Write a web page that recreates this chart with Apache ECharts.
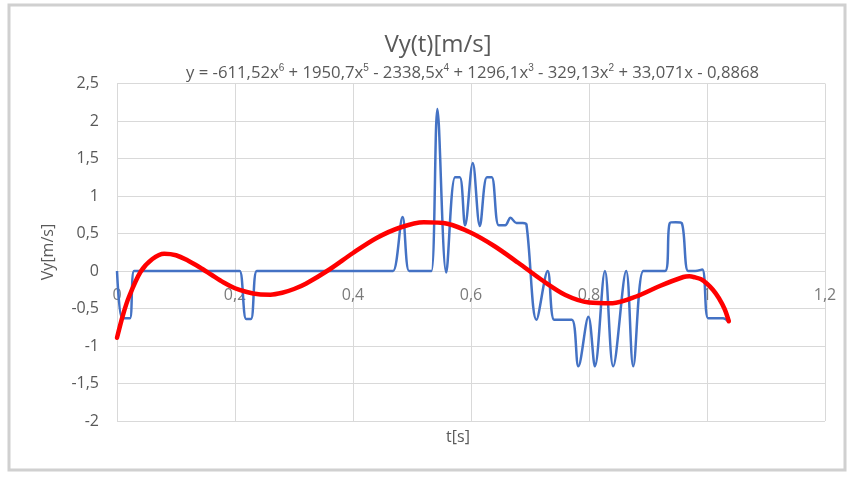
<!DOCTYPE html>
<html><head><meta charset="utf-8">
<script src="https://cdn.jsdelivr.net/npm/echarts@6/dist/echarts.min.js"></script>
<style>html,body{margin:0;padding:0;background:#fff}#c{width:853px;height:478px}</style>
</head><body><div id="c"></div>
<script>
const chartTitle = 'Vy(t)[m/s]';
const xName = 't[s]';
const yName = 'Vy[m/s]';
const xTicks = [0, 0.2, 0.4, 0.6, 0.8, 1, 1.2];
const yTicks = [-2, -1.5, -1, -0.5, 0, 0.5, 1, 1.5, 2, 2.5];
// measured signal
const blueT = [0, 0.0085, 0.015, 0.022, 0.029, 0.04, 0.1, 0.2, 0.208, 0.219, 0.227, 0.237, 0.25, 0.35, 0.46, 0.468, 0.484, 0.495, 0.505, 0.525, 0.533, 0.543, 0.558, 0.573, 0.581, 0.590, 0.603, 0.615, 0.627, 0.635, 0.647, 0.658, 0.667, 0.677, 0.688, 0.694, 0.711, 0.730, 0.741, 0.755, 0.771, 0.782, 0.799, 0.810, 0.827, 0.841, 0.863, 0.875, 0.892, 0.905, 0.929, 0.937, 0.947, 0.957, 0.968, 0.980, 0.992, 1.002, 1.015, 1.027, 1.037];
const blueV = [0, -0.63, -0.63, -0.63, 0, 0, 0, 0, 0, -0.64, -0.64, 0, 0, 0, 0, 0, 0.72, 0, 0, 0, 0, 2.16, -0.02, 1.25, 1.25, 0.61, 1.44, 0.60, 1.25, 1.25, 0.61, 0.61, 0.71, 0.64, 0.64, 0.62, -0.65, 0, -0.65, -0.65, -0.65, -1.27, -0.61, -1.27, 0, -1.27, 0, -1.27, 0, 0, 0, 0.64, 0.65, 0.64, 0, 0, 0.02, -0.63, -0.63, -0.63, -0.68];
// polynomial trendline
const trendT = [0, 0.01, 0.02, 0.04, 0.06, 0.08, 0.1, 0.12, 0.14, 0.16, 0.18, 0.2, 0.22, 0.24, 0.26, 0.28, 0.3, 0.32, 0.36, 0.4, 0.44, 0.48, 0.52, 0.56, 0.6, 0.64, 0.68, 0.72, 0.76, 0.8, 0.84, 0.88, 0.92, 0.96, 0.97, 0.98, 0.99, 1.0, 1.01, 1.02, 1.03, 1.037];
const trendV = [-0.89, -0.59, -0.35, -0.01, 0.16, 0.23, 0.21, 0.14, 0.05, -0.05, -0.15, -0.23, -0.28, -0.31, -0.315, -0.29, -0.24, -0.17, 0.02, 0.24, 0.44, 0.58, 0.65, 0.63, 0.51, 0.33, 0.11, -0.12, -0.32, -0.42, -0.43, -0.34, -0.20, -0.08, -0.07, -0.085, -0.11, -0.17, -0.25, -0.36, -0.51, -0.67];

const fmt = v => String(v).replace('.', ',');
const chart = echarts.init(document.getElementById('c'), null, {renderer: 'canvas'});
const txt = '#595959';
const font = "'Open Sans', sans-serif";
chart.setOption({
  animation: false,
  backgroundColor: '#fff',
  textStyle: {fontFamily: font},
  graphic: [
    {type: 'rect', shape: {x: 9, y: 5, width: 836, height: 465}, style: {fill: 'none', stroke: '#d0d0d0', lineWidth: 3}, z: 0},
    {type: 'text', x: 438, y: 45, style: {text: chartTitle, font: "24px " + font, fill: txt, align: 'center', verticalAlign: 'middle'}},
    {type: 'text', x: 186, y: 73, style: {
      text: 'y = -611,52x{s|6} + 1950,7x{s|5} - 2338,5x{s|4} + 1296,1x{s|3} - 329,13x{s|2} + 33,071x - 0,8868',
      font: "16.7px " + font, fill: txt, verticalAlign: 'middle',
      rich: {s: {fontSize: 10, verticalAlign: 'top', lineHeight: 20, fill: txt}}
    }},
    {type: 'text', x: 48, y: 252, rotation: Math.PI / 2, style: {text: yName, font: "16px " + font, fill: txt, align: 'center', verticalAlign: 'middle'}},
    {type: 'text', x: 458, y: 437, style: {text: xName, font: "16px " + font, fill: txt, align: 'center', verticalAlign: 'middle'}}
  ],
  grid: {left: 117, right: 28, top: 83.5, bottom: 57, containLabel: false},
  xAxis: {
    type: 'value', min: xTicks[0], max: xTicks[xTicks.length - 1], interval: 0.2,
    axisLine: {show: false},
    axisTick: {show: false},
    axisLabel: {show: false},
    splitLine: {show: true, lineStyle: {color: '#d9d9d9', width: 1}}
  },
  yAxis: {
    type: 'value', min: yTicks[0], max: yTicks[yTicks.length - 1], interval: 0.5,
    axisLine: {show: false}, axisTick: {show: false},
    axisLabel: {formatter: fmt, color: txt, fontSize: 16, margin: 18, fontFamily: font},
    splitLine: {show: true, lineStyle: {color: '#d9d9d9', width: 1}}
  },
  series: [
    {type: 'line', data: blueT.map((t, i) => [t, blueV[i]]), showSymbol: false, smooth: 0.35,
     lineStyle: {color: '#4472C4', width: 2.5}, z: 2},
    {type: 'line', data: trendT.map((t, i) => [t, trendV[i]]), showSymbol: false, smooth: 0.3,
     lineStyle: {color: '#FF0000', width: 4.5, cap: 'round'}, z: 3},
    {type: 'scatter', data: xTicks.map(t => [t, 0]), symbolSize: 0, silent: true, z: 1,
     label: {show: true, position: 'bottom', distance: 16, formatter: p => fmt(p.value[0]), color: txt, fontSize: 16, fontFamily: font}}
  ]
});
</script></body></html>
